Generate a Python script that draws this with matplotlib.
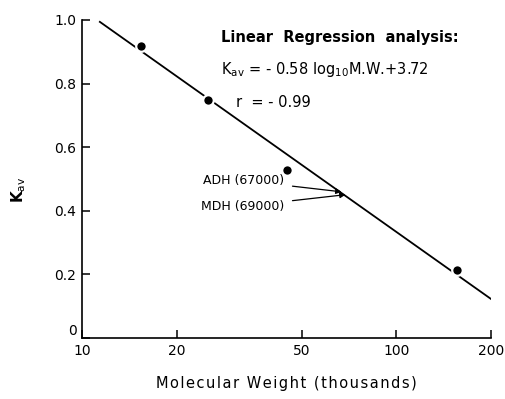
import matplotlib
matplotlib.use("Agg")
import matplotlib.pyplot as plt
import numpy as np

# standard proteins: molecular weight (thousands) vs K_av
mw = [15.4, 25.2, 45.0, 156.0]
kav = [0.918, 0.748, 0.528, 0.214]

# fitted regression line, drawn between its two end points
fit_mw = [11.4, 200.0]
fit_kav = [0.994, 0.123]

# unknowns marked on the fitted line
unk_labels = ["ADH (67000)", "MDH (69000)"]
unk_mw = [67.0, 69.0]

xticks = [10, 20, 50, 100, 200]
yticks = [0, 0.2, 0.4, 0.6, 0.8, 1.0]
yticklabels = ["0", "0.2", "0.4", "0.6", "0.8", "1.0"]

fig = plt.figure(figsize=(5.06, 3.99), dpi=100)
ax = fig.add_axes([0.162, 0.153, 0.808, 0.797])

ax.set_xscale("log")
ax.set_xlim(10, 200)
ax.set_ylim(0, 1.0)

ax.plot(fit_mw, fit_kav, color="black", lw=1.3, zorder=2)
ax.plot(mw, kav, "o", color="black", ms=7.6, mec="white", mew=1.6, zorder=3)

lx = np.log10(fit_mw)
slope = (fit_kav[1] - fit_kav[0]) / (lx[1] - lx[0])
text_y = [0.495, 0.414]
for lab, m, ty in zip(unk_labels, unk_mw, text_y):
    yl = fit_kav[0] + slope * (np.log10(m) - lx[0])
    ax.annotate(lab, xy=(m, yl + 0.004), xytext=(44.0, ty),
                fontsize=9, va="center", ha="right",
                arrowprops=dict(arrowstyle="-|>", color="black", lw=0.9,
                                mutation_scale=8, shrinkA=4, shrinkB=0))

ax.set_xticks(xticks)
ax.set_xticklabels([str(t) for t in xticks])
ax.xaxis.set_minor_locator(matplotlib.ticker.NullLocator())
ax.set_yticks(yticks)
ax.set_yticklabels(yticklabels)
ax.tick_params(direction="in", length=6, width=1.1, labelsize=10, pad=4)
ax.tick_params(axis="x", pad=4)
# the zero label sits just above the corner so it clears the "10"
ax.get_yticklabels()[0].set_va("bottom")

for s in ["top", "right"]:
    ax.spines[s].set_visible(False)
for s in ["left", "bottom"]:
    ax.spines[s].set_linewidth(1.2)

ax.text(0.34, 0.945, "Linear  Regression  analysis:", transform=ax.transAxes,
        fontsize=10.5, fontweight="bold", va="center")
ax.text(0.34, 0.845, r"K$_{\rm av}$ = - 0.58 log$_{10}$M.W.+3.72",
        transform=ax.transAxes, fontsize=10.5, va="center")
ax.text(0.377, 0.74, "r  = - 0.99", transform=ax.transAxes,
        fontsize=10.5, va="center")

fig.text(0.036, 0.525, r"K$_{\rm av}$", rotation=90, fontsize=11,
         fontweight="bold", ha="center", va="center")
xlabel = "Molecular Weight (thousands)"
fig.text(0.566, 0.04, "\u200a".join(xlabel),
         fontsize=10.5, ha="center", va="center")

fig.savefig("out.png", dpi=100)
